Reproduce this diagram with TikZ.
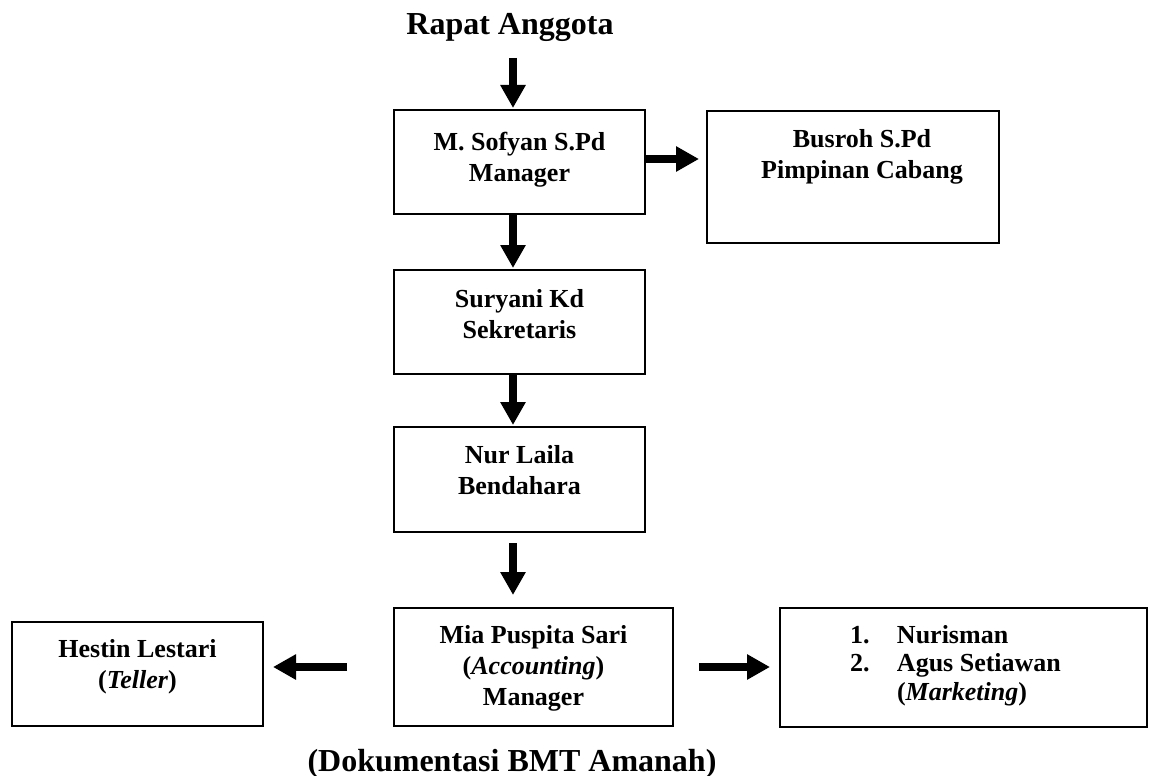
\documentclass[tikz,border=0pt]{standalone}
\usepackage{fontspec}
\setmainfont{Liberation Serif}
\usetikzlibrary{arrows.meta,calc}
\tikzset{
  orgbox/.style={draw, line width=1.5pt, rectangle, inner sep=0pt, outer sep=0pt,
    anchor=north west, font=\bfseries\fontsize{26}{31}\selectfont},
  bigtext/.style={inner sep=0pt, anchor=base, font=\bfseries\fontsize{32}{38}\selectfont},
  blockarrow/.style={line width=8pt, -{Triangle[width=24pt,length=23pt]}},
}
\newcommand{\boxcontent}[5]{\parbox[t][#2][t]{#1}{\centering\leftskip=#4 plus 1fil\rule{0pt}{#3}\ignorespaces#5}}
\begin{document}
\begin{tikzpicture}[x=1pt,y=-1pt]
\useasboundingbox (0,0) rectangle (1152,776);
\node[bigtext] (title) at (510,35) {Rapat Anggota};
\node[orgbox] (sofyan) at (394,110) {\boxcontent{251pt}{104pt}{40pt}{0pt}{M. Sofyan S.Pd\\Manager}};
\node[orgbox] (busroh) at (707,111) {\boxcontent{292pt}{132pt}{36pt}{18pt}{Busroh S.Pd\\Pimpinan Cabang}};
\node[orgbox] (suryani) at (394,270) {\boxcontent{251pt}{104pt}{37pt}{0pt}{Suryani Kd\\Sekretaris}};
\node[orgbox] (nurlaila) at (394,427) {\boxcontent{251pt}{105pt}{36pt}{0pt}{Nur Laila\\Bendahara}};
\node[orgbox] (mia) at (394,608) {\boxcontent{279pt}{118pt}{35pt}{0pt}{Mia Puspita Sari\\(\textit{Accounting})\\Manager}};
\node[orgbox] (hestin) at (12,622) {\boxcontent{251pt}{104pt}{35pt}{0pt}{Hestin Lestari\\(\textit{Teller})}};
\node[orgbox] (nurisman) at (780,608) {\parbox[t][119pt][t]{367pt}{\fontsize{26}{28.5}\selectfont\raggedright\rule{0pt}{35pt}\hspace*{70pt}\makebox[47pt][l]{1.}Nurisman\\
\hspace*{70pt}\makebox[47pt][l]{2.}Agus Setiawan\\
\hspace*{117pt}(\textit{Marketing})}};
\node[bigtext] (caption) at (512,771) {(Dokumentasi BMT Amanah)};
\coordinate (axis) at (513,0);
\draw[blockarrow] ($(title.base -| axis)+(0,23)$) -- ($(sofyan.north -| axis)+(0,-2)$);
\draw[blockarrow] (sofyan.south -| axis) -- ($(suryani.north -| axis)+(0,-2)$);
\draw[blockarrow] (suryani.south -| axis) -- ($(nurlaila.north -| axis)+(0,-2)$);
\draw[blockarrow] ($(nurlaila.south -| axis)+(0,11)$) -- ($(mia.north -| axis)+(0,-13)$);
\draw[blockarrow] ($(sofyan.east)+(0,-3)$) -- ($(busroh.west |- sofyan.east)+(-8,-3)$);
\draw[blockarrow] ($(mia.west)+(-47,0)$) -- ($(hestin.east |- mia.west)+(10,0)$);
\draw[blockarrow] ($(mia.east)+(26,0)$) -- ($(nurisman.west |- mia.east)+(-10,0)$);
\end{tikzpicture}
\end{document}
